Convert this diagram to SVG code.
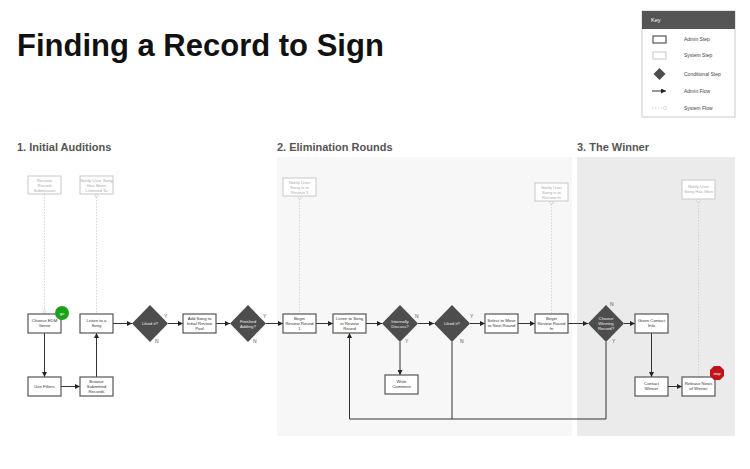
<svg xmlns="http://www.w3.org/2000/svg" width="750" height="469" viewBox="0 0 750 469">
<style>
text{font-family:"Liberation Sans",Arial,sans-serif}
.a{fill:#fff;stroke:#555;stroke-width:1.2}
.s{fill:#fff;stroke:#c8c8c8;stroke-width:1}
.d{fill:#4d4d4d}
.t{font-size:4.3px;fill:#333;text-anchor:middle}
.ts{font-size:4.3px;fill:#aaa;text-anchor:middle}
.tw{font-size:4.3px;fill:#eee;text-anchor:middle}
.yn{font-size:5px;fill:#555}
.f{fill:none;stroke:#333;stroke-width:1;marker-end:url(#ar)}
.fl{fill:none;stroke:#333;stroke-width:1}
.sf{fill:none;stroke:#ccc;stroke-width:0.8;stroke-dasharray:1.5 1.5}
.h{font-size:11px;font-weight:bold;fill:#555}
.k{font-size:5px;fill:#444}
</style>
<defs>
<marker id="ar" viewBox="0 0 6 6" refX="6" refY="3" markerWidth="5" markerHeight="5" orient="auto"><path d="M0,0L6,3L0,6z" fill="#222"/></marker>
</defs>
<rect width="750" height="469" fill="#fff"/>
<rect x="277" y="157" width="295" height="279" fill="#f7f7f7"/>
<rect x="577" y="157" width="158" height="279" fill="#ebebeb"/>
<text x="17" y="56" font-size="31" font-weight="bold" fill="#111">Finding a Record to Sign</text>
<text class="h" x="17" y="151">1. Initial Auditions</text>
<text class="h" x="277" y="151">2. Elimination Rounds</text>
<text class="h" x="577" y="151">3. The Winner</text>

<g id="key">
<rect x="642" y="11" width="93" height="106" fill="#fff" stroke="#ccc"/>
<rect x="642" y="11" width="93" height="18" fill="#555"/>
<text x="651" y="22" font-size="5.5" fill="#fff">Key</text>
<rect x="653" y="36" width="13" height="7" class="a"/><text class="k" x="684" y="41">Admin Step</text>
<rect x="653" y="52" width="13" height="7" class="s"/><text class="k" x="684" y="57">System Step</text>
<path d="M659.5,68l6,6l-6,6l-6,-6z" class="d"/><text class="k" x="684" y="76">Conditional Step</text>
<path d="M652,91H666" class="f"/><text class="k" x="684" y="93">Admin Flow</text>
<path d="M652,108H663" class="sf"/><circle cx="665" cy="108" r="1.5" fill="#fff" stroke="#ccc" stroke-width="0.6"/><text class="k" x="684" y="110">System Flow</text>
</g>

<g id="connectors">
<path class="sf" d="M44.5,194V313"/><circle cx="44.5" cy="312" r="1.5" fill="#fff" stroke="#bbb" stroke-width="0.6"/>
<path class="sf" d="M96.5,194V313"/><circle cx="96.5" cy="195.5" r="1.5" fill="#fff" stroke="#bbb" stroke-width="0.6"/>
<path class="sf" d="M299.5,196V313"/><circle cx="299.5" cy="197.5" r="1.5" fill="#fff" stroke="#bbb" stroke-width="0.6"/>
<path class="sf" d="M551.5,201V313"/><circle cx="551.5" cy="202.5" r="1.5" fill="#fff" stroke="#bbb" stroke-width="0.6"/>
<path class="sf" d="M698.5,199V376"/><circle cx="698.5" cy="200.5" r="1.5" fill="#fff" stroke="#bbb" stroke-width="0.6"/>
<path class="f" d="M44.5,333V377"/>
<path class="f" d="M61,386.5H80"/>
<path class="f" d="M96.5,377V333"/>
<path class="f" d="M113,323.5H132"/>
<path class="f" d="M168,323.5H183"/>
<path class="f" d="M216,323.5H230"/>
<path class="f" d="M266,323.5H283"/>
<path class="f" d="M316,323.5H333"/>
<path class="f" d="M366,323.5H382"/>
<path class="f" d="M418,323.5H434"/>
<path class="f" d="M400,342V375"/>
<path class="f" d="M470,323.5H485"/>
<path class="f" d="M518,323.5H535"/>
<path class="f" d="M568,323.5H588"/>
<path class="f" d="M624,323.5H635"/>
<path class="f" d="M651.5,333V377"/>
<path class="f" d="M668,386.5H682"/>
<path class="fl" d="M452,342V419"/>
<path class="f" d="M606,342V419H349.5V333"/>
</g>

<g id="receive"><rect class="s" x="28" y="176" width="33" height="18"/><text class="ts" x="44.5" y="182">Receive</text><text class="ts" x="44.5" y="187">Record</text><text class="ts" x="44.5" y="192">Submission</text></g>
<g id="notify-listened"><rect class="s" x="80" y="176" width="33" height="18"/><text class="ts" x="96.5" y="182">Notify User Song</text><text class="ts" x="96.5" y="187">Has Been</text><text class="ts" x="96.5" y="192">Listened To</text></g>
<g id="notify-r1"><rect class="s" x="283" y="178" width="33" height="18"/><text class="ts" x="299.5" y="184">Notify User</text><text class="ts" x="299.5" y="189">Song is in</text><text class="ts" x="299.5" y="194">Review 1</text></g>
<g id="notify-rn"><rect class="s" x="535" y="183" width="33" height="18"/><text class="ts" x="551.5" y="189">Notify User</text><text class="ts" x="551.5" y="194">Song is in</text><text class="ts" x="551.5" y="199">Review fn</text></g>
<g id="notify-won"><rect class="s" x="682" y="180" width="33" height="19"/><text class="ts" x="698.5" y="188">Notify User</text><text class="ts" x="698.5" y="193">Song Has Won</text></g>

<g id="choose-genre"><rect class="a" x="28" y="314" width="33" height="19"/><text class="t" x="44.5" y="322">Choose EDM</text><text class="t" x="44.5" y="327">Genre</text>
<circle cx="62" cy="313" r="7" fill="#1aa31a"/><text x="62" y="314.5" font-size="4" fill="#fff" text-anchor="middle">go</text></g>
<g id="use-filters"><rect class="a" x="28" y="377" width="33" height="19"/><text class="t" x="44.5" y="388">Use Filters</text></g>
<g id="browse"><rect class="a" x="80" y="377" width="33" height="19"/><text class="t" x="96.5" y="383">Browse</text><text class="t" x="96.5" y="388">Submitted</text><text class="t" x="96.5" y="393">Records</text></g>
<g id="listen"><rect class="a" x="80" y="314" width="33" height="19"/><text class="t" x="96.5" y="322">Listen to a</text><text class="t" x="96.5" y="327">Song</text></g>
<g id="liked1"><path class="d" d="M150,305l18,18.5l-18,18.5l-18,-18.5z"/><text class="tw" x="150" y="325">Liked it?</text><text class="yn" x="164" y="318">Y</text><text class="yn" x="155" y="343">N</text></g>
<g id="add-song"><rect class="a" x="183" y="314" width="33" height="19"/><text class="t" x="199.5" y="320">Add Song to</text><text class="t" x="199.5" y="325">Initial Review</text><text class="t" x="199.5" y="330">Pool</text></g>
<g id="finished"><path class="d" d="M248,305l18,18.5l-18,18.5l-18,-18.5z"/><text class="tw" x="248" y="322.5">Finished</text><text class="tw" x="248" y="327.5">Adding?</text><text class="yn" x="263" y="318">Y</text><text class="yn" x="253" y="343">N</text></g>
<g id="begin-r1"><rect class="a" x="283" y="314" width="33" height="19"/><text class="t" x="299.5" y="320">Begin</text><text class="t" x="299.5" y="325">Review Round</text><text class="t" x="299.5" y="330">1</text></g>
<g id="listen-review"><rect class="a" x="333" y="314" width="33" height="19"/><text class="t" x="349.5" y="320">Listen to Song</text><text class="t" x="349.5" y="325">in Review</text><text class="t" x="349.5" y="330">Round</text></g>
<g id="discuss"><path class="d" d="M400,305l18,18.5l-18,18.5l-18,-18.5z"/><text class="tw" x="400" y="322.5">Internally</text><text class="tw" x="400" y="327.5">Discuss?</text><text class="yn" x="415" y="318">N</text><text class="yn" x="405" y="343">Y</text></g>
<g id="write-comment"><rect class="a" x="385" y="375" width="33" height="19"/><text class="t" x="401.5" y="383">Write</text><text class="t" x="401.5" y="388">Comment</text></g>
<g id="liked2"><path class="d" d="M452,305l18,18.5l-18,18.5l-18,-18.5z"/><text class="tw" x="452" y="325">Liked it?</text><text class="yn" x="470" y="318">Y</text><text class="yn" x="460" y="343">N</text></g>
<g id="select-move"><rect class="a" x="485" y="314" width="33" height="19"/><text class="t" x="501.5" y="322">Select to Move</text><text class="t" x="501.5" y="327">to Next Round</text></g>
<g id="begin-rn"><rect class="a" x="535" y="314" width="33" height="19"/><text class="t" x="551.5" y="320">Begin</text><text class="t" x="551.5" y="325">Review Round</text><text class="t" x="551.5" y="330">fn</text></g>
<g id="choose-winner"><path class="d" d="M606,305l18,18.5l-18,18.5l-18,-18.5z"/><text class="tw" x="606" y="319.5">Choose</text><text class="tw" x="606" y="324.5">Winning</text><text class="tw" x="606" y="329.5">Record?</text><text class="yn" x="610" y="306">N</text><text class="yn" x="612" y="343">Y</text></g>
<g id="given-contact"><rect class="a" x="635" y="314" width="33" height="19"/><text class="t" x="651.5" y="322">Given Contact</text><text class="t" x="651.5" y="327">Info</text></g>
<g id="contact-winner"><rect class="a" x="635" y="377" width="33" height="19"/><text class="t" x="651.5" y="385">Contact</text><text class="t" x="651.5" y="390">Winner</text></g>
<g id="release-news"><rect class="a" x="682" y="377" width="33" height="19"/><text class="t" x="698.5" y="385">Release News</text><text class="t" x="698.5" y="390">of Winner</text>
<path d="M714,366h6l4,4v6l-4,4h-6l-4,-4v-6z" fill="#c0141a"/><text x="717" y="374.5" font-size="4" fill="#fff" text-anchor="middle">stop</text></g>
</svg>
